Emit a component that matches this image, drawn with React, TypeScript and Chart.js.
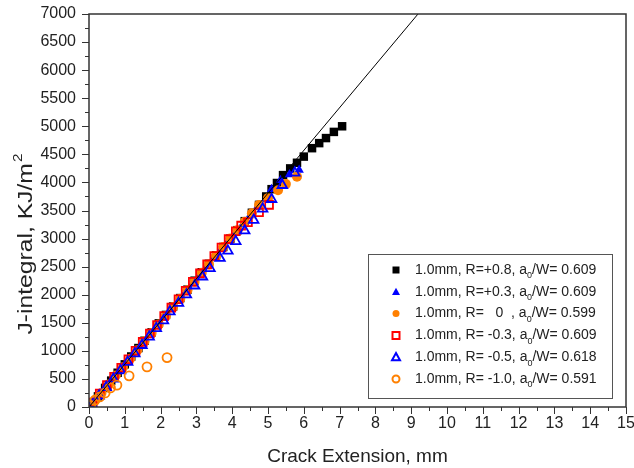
import React, { useEffect, useRef } from "react";
import { Chart, registerables } from "chart.js";

Chart.register(...registerables);

// ---- Data ----
const xTickMin = 0;
const xTickMax = 15;
const yTickMin = 0;
const yTickMax = 7000;

const r08X = [0.08, 0.25, 0.45, 0.62, 0.8, 1.0, 1.18, 1.38, 1.55, 1.75, 1.95, 2.15, 2.35, 2.55, 2.75, 2.95, 3.15, 3.35, 3.55, 3.75, 3.95, 4.15, 4.35, 4.55, 4.75, 4.95, 5.1, 5.25, 5.42, 5.62, 5.81, 6.0, 6.23, 6.43, 6.62, 6.84, 7.07];
const r08Y = [60, 190, 340, 470, 610, 760, 900, 1050, 1180, 1330, 1490, 1640, 1790, 1940, 2090, 2250, 2400, 2550, 2700, 2850, 3000, 3150, 3310, 3460, 3600, 3750, 3880, 3990, 4130, 4250, 4350, 4460, 4610, 4700, 4790, 4900, 5000];

const r03X = [0.12, 0.3, 0.5, 0.7, 0.9, 1.1, 1.3, 1.5, 1.7, 1.9, 2.1, 2.3, 2.5, 2.7, 2.9, 3.1, 3.3, 3.5, 3.7, 3.9, 4.1, 4.3, 4.5, 4.7, 4.94, 5.1, 5.35, 5.6, 5.87];
const r03Y = [80, 230, 380, 530, 690, 840, 990, 1130, 1290, 1440, 1590, 1740, 1890, 2050, 2200, 2360, 2510, 2660, 2810, 2960, 3110, 3260, 3410, 3560, 3700, 3880, 4040, 4140, 4220];

const r0X = [0.15, 0.35, 0.55, 0.75, 0.95, 1.15, 1.35, 1.55, 1.75, 1.95, 2.15, 2.35, 2.55, 2.75, 2.95, 3.15, 3.35, 3.55, 3.75, 3.95, 4.15, 4.35, 4.55, 4.75, 5.0, 5.28, 5.5, 5.81];
const r0Y = [100, 250, 400, 560, 710, 860, 1010, 1170, 1320, 1470, 1620, 1780, 1930, 2080, 2230, 2390, 2540, 2690, 2850, 3000, 3150, 3300, 3450, 3600, 3720, 3860, 3970, 4100];

const rm03X = [0.1, 0.3, 0.5, 0.7, 0.9, 1.1, 1.3, 1.5, 1.7, 1.9, 2.1, 2.3, 2.5, 2.7, 2.9, 3.1, 3.3, 3.5, 3.7, 3.9, 4.1, 4.25, 4.44, 4.75, 5.03];
const rm03Y = [80, 240, 390, 540, 700, 850, 1000, 1160, 1310, 1460, 1620, 1770, 1920, 2070, 2230, 2380, 2540, 2690, 2840, 2990, 3130, 3230, 3290, 3470, 3600];

const rm05X = [0.08, 0.28, 0.48, 0.68, 0.88, 1.08, 1.28, 1.48, 1.68, 1.88, 2.08, 2.26, 2.5, 2.72, 2.95, 3.17, 3.38, 3.66, 3.88, 4.1, 4.35, 4.6, 4.85, 5.1, 5.4, 5.75];
const rm05Y = [50, 200, 350, 500, 650, 800, 950, 1100, 1250, 1400, 1540, 1700, 1850, 2000, 2160, 2320, 2470, 2650, 2780, 2950, 3140, 3330, 3530, 3700, 3950, 4170];

const rm10X = [0.05, 0.17, 0.3, 0.45, 0.6, 0.78, 1.12, 1.62, 2.18];
const rm10Y = [30, 125, 180, 250, 340, 390, 555, 715, 880];

const fitX = [0, 9.19];
const fitY = [0, 7000];

const seriesLabels = [
  ["1.0mm, R=+0.8, a", "/W= 0.609"],
  ["1.0mm, R=+0.3, a", "/W= 0.609"],
  ["1.0mm, R=   0  , a", "/W= 0.599"],
  ["1.0mm, R= -0.3, a", "/W= 0.609"],
  ["1.0mm, R= -0.5, a", "/W= 0.618"],
  ["1.0mm, R= -1.0, a", "/W= 0.591"],
];

const xTitle = "Crack Extension, mm";
const yTitle = "J-integral, KJ/m";

const BLUE = "#0000FF";
const ORANGE = "#FF8000";
const RED = "#FF0000";
const FONT = "'Liberation Sans', Arial, sans-serif";

const zip = (xs: number[], ys: number[]) => xs.map((x, i) => ({ x, y: ys[i] }));

type Marker = { shape: string; color: string; filled: boolean };
const markers: Marker[] = [
  { shape: "square", color: "#000000", filled: true },
  { shape: "triangle", color: BLUE, filled: true },
  { shape: "circle", color: ORANGE, filled: true },
  { shape: "square", color: RED, filled: false },
  { shape: "triangle", color: BLUE, filled: false },
  { shape: "circle", color: ORANGE, filled: false },
];

function drawMarker(ctx: CanvasRenderingContext2D, m: Marker, cx: number, cy: number, s: number) {
  ctx.beginPath();
  if (m.shape === "square") {
    ctx.rect(cx - s / 2, cy - s / 2, s, s);
  } else if (m.shape === "triangle") {
    const h = s * 0.9;
    ctx.moveTo(cx, cy - h / 2 - 1);
    ctx.lineTo(cx + s / 2 + 0.5, cy + h / 2);
    ctx.lineTo(cx - s / 2 - 0.5, cy + h / 2);
    ctx.closePath();
  } else {
    ctx.arc(cx, cy, s / 2, 0, Math.PI * 2);
  }
  if (m.filled) {
    ctx.fillStyle = m.color;
    ctx.fill();
  } else {
    ctx.strokeStyle = m.color;
    ctx.lineWidth = 2;
    ctx.stroke();
  }
}

const decorPlugin = {
  id: "decor",
  afterDraw(chart: any) {
    const { ctx, chartArea: a, scales } = chart;
    const xs = scales.x;
    const ys = scales.y;
    ctx.save();
    // ticks (major + minor), outward
    ctx.strokeStyle = "#333333";
    ctx.lineWidth = 1;
    ctx.beginPath();
    for (let i = 0; i <= (xTickMax - xTickMin) * 2; i++) {
      const v = xTickMin + i * 0.5;
      const p = Math.round(xs.getPixelForValue(v)) + 0.5;
      const len = i % 2 === 0 ? 7 : 4;
      ctx.moveTo(p, a.bottom);
      ctx.lineTo(p, a.bottom + len);
    }
    for (let i = 0; i <= (yTickMax - yTickMin) / 250; i++) {
      const v = yTickMin + i * 250;
      const p = Math.round(ys.getPixelForValue(v)) + 0.5;
      const len = i % 2 === 0 ? 7 : 4;
      ctx.moveTo(a.left, p);
      ctx.lineTo(a.left - len, p);
    }
    ctx.stroke();
    // frame
    ctx.strokeStyle = "#333333";
    ctx.lineWidth = 1.5;
    ctx.strokeRect(a.left, a.top, a.right - a.left, a.bottom - a.top);

    // axis titles
    ctx.fillStyle = "#222222";
    ctx.font = `19px ${FONT}`;
    ctx.textAlign = "center";
    ctx.textBaseline = "middle";
    ctx.fillText(xTitle, (a.left + a.right) / 2, 457);

    ctx.save();
    ctx.translate(32, 244);
    ctx.rotate(-Math.PI / 2);
    ctx.font = `21px ${FONT}`;
    const w1 = ctx.measureText(yTitle).width;
    ctx.font = `13px ${FONT}`;
    const w2 = ctx.measureText("2").width;
    const total = w1 + w2 + 1;
    ctx.scale(181 / total, 1);
    ctx.textAlign = "left";
    ctx.textBaseline = "alphabetic";
    ctx.font = `21px ${FONT}`;
    ctx.fillText(yTitle, -total / 2, 0);
    ctx.font = `13px ${FONT}`;
    ctx.fillText("2", -total / 2 + w1 + 1, -10);
    ctx.restore();

    // legend
    const lx = a.right - 258;
    const ly = a.bottom - 153;
    const lw = 244;
    const lh = 144;
    ctx.fillStyle = "#ffffff";
    ctx.fillRect(lx, ly, lw, lh);
    ctx.strokeStyle = "#555555";
    ctx.lineWidth = 1;
    ctx.strokeRect(lx + 0.5, ly + 0.5, lw, lh);
    for (let i = 0; i < seriesLabels.length; i++) {
      const cy = ly + 16 + i * 21.8;
      drawMarker(ctx, markers[i], lx + 28, cy, 7);
      ctx.fillStyle = "#222222";
      ctx.textAlign = "left";
      ctx.textBaseline = "middle";
      ctx.font = `14px ${FONT}`;
      const [p1, p2] = seriesLabels[i];
      let tx = lx + 47;
      ctx.fillText(p1, tx, cy);
      tx += ctx.measureText(p1).width;
      ctx.font = `9px ${FONT}`;
      ctx.fillText("0", tx, cy + 6);
      tx += ctx.measureText("0").width;
      ctx.font = `14px ${FONT}`;
      ctx.fillText(p2, tx, cy);
    }
    ctx.restore();
  },
};

export default function App() {
  const ref = useRef<HTMLCanvasElement | null>(null);
  useEffect(() => {
    document.body.style.margin = "0";
    if (!ref.current) return;
    const ds = (label: string, xs: number[], ys: number[], m: Marker, radius: number, order: number) => ({
      type: "scatter" as const,
      label,
      data: zip(xs, ys),
      pointStyle: m.shape === "square" ? "rect" : m.shape,
      pointRadius: radius,
      pointBackgroundColor: m.filled ? m.color : "rgba(0,0,0,0)",
      pointBorderColor: m.color,
      pointBorderWidth: m.filled ? 0 : 1.8,
      showLine: false,
      order,
    });
    const chart = new Chart(ref.current, {
      type: "scatter",
      data: {
        datasets: [
          ds("R=+0.8", r08X, r08Y, markers[0], 6, 6),
          ds("R=+0.3", r03X, r03Y, markers[1], 5.5, 5),
          ds("R=0", r0X, r0Y, markers[2], 5, 4),
          ds("R=-0.3", rm03X, rm03Y, markers[3], 5.5, 3),
          ds("R=-0.5", rm05X, rm05Y, markers[4], 5.5, 2),
          ds("R=-1.0", rm10X, rm10Y, markers[5], 4.5, 1),
          {
            type: "line" as const,
            label: "fit",
            data: zip(fitX, fitY),
            borderColor: "#000000",
            borderWidth: 1,
            pointRadius: 0,
            showLine: true,
            fill: false,
            order: 0,
          } as any,
        ],
      },
      options: {
        responsive: false,
        animation: false,
        layout: { padding: { left: 0, right: 8, top: 14, bottom: 0 } },
        plugins: { legend: { display: false }, tooltip: { enabled: false } },
        scales: {
          x: {
            type: "linear",
            min: xTickMin,
            max: xTickMax,
            grid: { display: false, drawTicks: false },
            border: { display: false },
            ticks: { stepSize: 1, color: "#222222", font: { size: 16, family: FONT }, padding: 7, maxRotation: 0, autoSkip: false, callback: (v: any) => String(v) },
            afterFit: (s: any) => {
              s.height = 61;
              s.paddingLeft = 0;
              s.paddingRight = 0;
            },
          },
          y: {
            type: "linear",
            min: yTickMin,
            max: yTickMax,
            grid: { display: false, drawTicks: false },
            border: { display: false },
            ticks: { stepSize: 500, color: "#222222", font: { size: 16, family: FONT }, padding: 13, callback: (v: any) => String(v) },
            afterFit: (s: any) => {
              s.width = 89;
              s.paddingTop = 0;
              s.paddingBottom = 0;
            },
          },
        },
      },
      plugins: [decorPlugin],
    } as any);
    return () => chart.destroy();
  }, []);
  return (
    <div style={{ width: 634, height: 468 }}>
      <canvas ref={ref} width={634} height={468} />
    </div>
  );
}
